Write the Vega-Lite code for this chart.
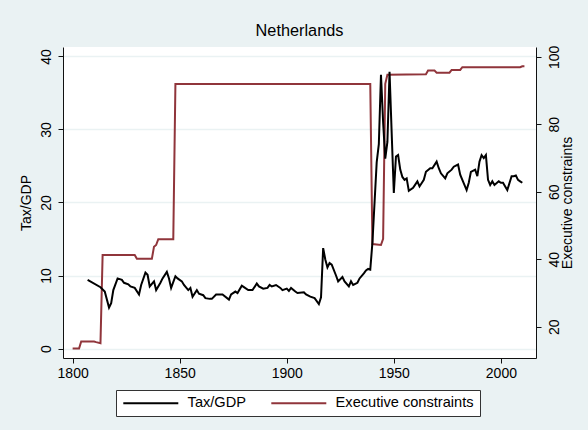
{
  "$schema": "https://vega.github.io/schema/vega-lite/v6.json",
  "width": 473,
  "height": 311,
  "autosize": {"type": "none"},
  "padding": {"left": 63, "top": 47, "right": 52, "bottom": 72},
  "background": "#eaf2f3",
  "title": {"text": "Netherlands", "fontSize": 16.3, "font": "Liberation Sans", "fontWeight": "normal", "color": "#000000", "anchor": "middle", "offset": -7, "baseline": "alphabetic"},
  "config": {
    "view": {"fill": "white", "stroke": null},
    "font": "Liberation Sans",
    "axis": {
      "domainColor": "#111111", "tickColor": "#111111", "labelColor": "#000000", "titleColor": "#000000",
      "labelFontSize": 14, "titleFontSize": 14, "titleFontWeight": "normal", "labelFont": "Liberation Sans", "titleFont": "Liberation Sans",
      "tickSize": 5, "domainWidth": 1, "tickWidth": 1, "labelOverlap": false, "labelFlush": false
    }
  },
  "datasets": {
    "tax": [
      {"year": 1807, "tax": 9.4}, {"year": 1813, "tax": 8.4}, {"year": 1815, "tax": 7.8}, {"year": 1817, "tax": 5.6},
      {"year": 1818, "tax": 6.2}, {"year": 1819, "tax": 8.0}, {"year": 1821, "tax": 9.6}, {"year": 1823, "tax": 9.4},
      {"year": 1824, "tax": 9.0}, {"year": 1826, "tax": 8.8}, {"year": 1827, "tax": 8.5}, {"year": 1829, "tax": 8.3},
      {"year": 1831, "tax": 7.4}, {"year": 1832, "tax": 8.7}, {"year": 1834, "tax": 10.4}, {"year": 1835, "tax": 10.1},
      {"year": 1836, "tax": 8.5}, {"year": 1838, "tax": 9.2}, {"year": 1839, "tax": 8.0}, {"year": 1841, "tax": 9.0},
      {"year": 1842, "tax": 9.6}, {"year": 1844, "tax": 10.5}, {"year": 1845, "tax": 9.6}, {"year": 1846, "tax": 8.3},
      {"year": 1848, "tax": 9.9}, {"year": 1849, "tax": 9.6}, {"year": 1851, "tax": 9.2}, {"year": 1852, "tax": 8.7},
      {"year": 1854, "tax": 8.0}, {"year": 1855, "tax": 8.3}, {"year": 1856, "tax": 7.1}, {"year": 1858, "tax": 8.0},
      {"year": 1859, "tax": 7.5}, {"year": 1861, "tax": 7.3}, {"year": 1862, "tax": 6.9}, {"year": 1864, "tax": 6.8},
      {"year": 1865, "tax": 6.8}, {"year": 1867, "tax": 7.4}, {"year": 1870, "tax": 7.4}, {"year": 1873, "tax": 6.7},
      {"year": 1874, "tax": 7.4}, {"year": 1876, "tax": 7.8}, {"year": 1877, "tax": 7.6}, {"year": 1879, "tax": 8.6},
      {"year": 1880, "tax": 8.4}, {"year": 1882, "tax": 8.0}, {"year": 1884, "tax": 8.0}, {"year": 1886, "tax": 8.9},
      {"year": 1887, "tax": 8.5}, {"year": 1889, "tax": 8.2}, {"year": 1891, "tax": 8.3}, {"year": 1892, "tax": 8.7},
      {"year": 1893, "tax": 8.5}, {"year": 1895, "tax": 8.7}, {"year": 1897, "tax": 8.3}, {"year": 1898, "tax": 8.0},
      {"year": 1900, "tax": 8.2}, {"year": 1901, "tax": 7.9}, {"year": 1902, "tax": 8.3}, {"year": 1904, "tax": 7.8},
      {"year": 1905, "tax": 7.6}, {"year": 1908, "tax": 7.7}, {"year": 1909, "tax": 7.4}, {"year": 1911, "tax": 7.1},
      {"year": 1913, "tax": 6.9}, {"year": 1915, "tax": 6.1}, {"year": 1916, "tax": 7.0}, {"year": 1917, "tax": 13.75},
      {"year": 1918, "tax": 12.2}, {"year": 1919, "tax": 11.1}, {"year": 1920, "tax": 11.7}, {"year": 1921, "tax": 11.5},
      {"year": 1923, "tax": 10.0}, {"year": 1924, "tax": 9.2}, {"year": 1926, "tax": 9.8}, {"year": 1927, "tax": 9.2},
      {"year": 1929, "tax": 8.5}, {"year": 1930, "tax": 9.2}, {"year": 1931, "tax": 8.7}, {"year": 1933, "tax": 9.0},
      {"year": 1934, "tax": 9.6}, {"year": 1936, "tax": 10.3}, {"year": 1937, "tax": 10.7}, {"year": 1938, "tax": 10.9},
      {"year": 1939, "tax": 10.8}, {"year": 1940, "tax": 14.5}, {"year": 1941, "tax": 20.0}, {"year": 1942, "tax": 25.5},
      {"year": 1943, "tax": 28.0}, {"year": 1944, "tax": 37.5}, {"year": 1945, "tax": 31.0}, {"year": 1946, "tax": 26.0},
      {"year": 1947, "tax": 28.3}, {"year": 1948, "tax": 37.9}, {"year": 1949, "tax": 29.5}, {"year": 1950, "tax": 21.3},
      {"year": 1951, "tax": 26.3}, {"year": 1952, "tax": 26.5}, {"year": 1953, "tax": 24.5}, {"year": 1954, "tax": 23.5},
      {"year": 1955, "tax": 23.1}, {"year": 1956, "tax": 23.3}, {"year": 1957, "tax": 21.6}, {"year": 1959, "tax": 22.0},
      {"year": 1961, "tax": 22.9}, {"year": 1962, "tax": 22.2}, {"year": 1964, "tax": 23.1}, {"year": 1965, "tax": 24.2},
      {"year": 1967, "tax": 24.7}, {"year": 1968, "tax": 24.7}, {"year": 1970, "tax": 25.6}, {"year": 1971, "tax": 24.7},
      {"year": 1972, "tax": 24.0}, {"year": 1974, "tax": 23.3}, {"year": 1975, "tax": 24.0}, {"year": 1977, "tax": 24.5},
      {"year": 1978, "tax": 24.9}, {"year": 1980, "tax": 25.2}, {"year": 1981, "tax": 23.8}, {"year": 1982, "tax": 23.1},
      {"year": 1984, "tax": 21.7}, {"year": 1985, "tax": 22.7}, {"year": 1986, "tax": 24.2}, {"year": 1988, "tax": 24.5},
      {"year": 1989, "tax": 23.6}, {"year": 1990, "tax": 25.6}, {"year": 1991, "tax": 26.5}, {"year": 1992, "tax": 26.1},
      {"year": 1993, "tax": 26.5}, {"year": 1994, "tax": 23.1}, {"year": 1995, "tax": 22.4}, {"year": 1996, "tax": 22.9},
      {"year": 1997, "tax": 22.4}, {"year": 1999, "tax": 22.9}, {"year": 2000, "tax": 22.7}, {"year": 2001, "tax": 22.7},
      {"year": 2002, "tax": 22.2}, {"year": 2003, "tax": 21.7}, {"year": 2005, "tax": 23.6}, {"year": 2006, "tax": 23.6},
      {"year": 2007, "tax": 23.7}, {"year": 2008, "tax": 23.1}, {"year": 2009, "tax": 22.9}, {"year": 2010, "tax": 22.7}
    ],
    "exec": [
      {"year": 1800, "xconst": 13.5}, {"year": 1803, "xconst": 13.5}, {"year": 1804, "xconst": 15.6}, {"year": 1810, "xconst": 15.6},
      {"year": 1811, "xconst": 15.4}, {"year": 1813, "xconst": 15.1}, {"year": 1814, "xconst": 41.2}, {"year": 1829, "xconst": 41.2},
      {"year": 1830, "xconst": 40.1}, {"year": 1837, "xconst": 40.1}, {"year": 1838, "xconst": 43.7}, {"year": 1839, "xconst": 44.2},
      {"year": 1840, "xconst": 45.9}, {"year": 1847, "xconst": 45.9}, {"year": 1848, "xconst": 91.9}, {"year": 1939, "xconst": 91.9},
      {"year": 1940, "xconst": 44.5}, {"year": 1944, "xconst": 44.2}, {"year": 1945, "xconst": 46.0}, {"year": 1946, "xconst": 92.0},
      {"year": 1947, "xconst": 94.7}, {"year": 1965, "xconst": 94.8}, {"year": 1966, "xconst": 95.9}, {"year": 1969, "xconst": 95.9},
      {"year": 1970, "xconst": 95.3}, {"year": 1976, "xconst": 95.3}, {"year": 1977, "xconst": 96.1}, {"year": 1981, "xconst": 96.1},
      {"year": 1982, "xconst": 96.9}, {"year": 2009, "xconst": 96.9}, {"year": 2010, "xconst": 97.2}, {"year": 2011, "xconst": 97.2}
    ]
  },
  "layer": [
    {
      "data": {"name": "exec"},
      "mark": {"type": "line", "strokeWidth": 2},
      "encoding": {
        "x": {"field": "year", "type": "quantitative", "scale": {"domain": [1795.5, 2016.4], "nice": false, "zero": false},
              "axis": {"values": [1800, 1850, 1900, 1950, 2000], "format": "d", "title": null, "grid": false, "labelPadding": 3}},
        "y": {"field": "xconst", "type": "quantitative", "scale": {"domain": [10.7, 102.9], "nice": false, "zero": false},
              "axis": {"orient": "right", "title": "Executive constraints", "values": [20, 40, 60, 80, 100], "grid": false,
                       "labelAngle": -90, "labelAlign": "center", "labelBaseline": "top", "labelPadding": 6,
                       "titleAngle": 270, "titleBaseline": "top", "titlePadding": -1}},
        "color": {"datum": "Executive constraints", "type": "nominal"}
      }
    },
    {
      "data": {"name": "tax"},
      "mark": {"type": "line", "strokeWidth": 2},
      "encoding": {
        "x": {"field": "year", "type": "quantitative"},
        "y": {"field": "tax", "type": "quantitative", "scale": {"domain": [-1.3, 41.3], "nice": false, "zero": false},
              "axis": {"orient": "left", "title": "Tax/GDP", "values": [0, 10, 20, 30, 40], "grid": true, "gridColor": "#eaf2f3", "gridWidth": 1.5,
                       "labelAngle": -90, "labelAlign": "center", "labelBaseline": "bottom", "labelPadding": 5,
                       "titleAngle": 270, "titleBaseline": "bottom", "titlePadding": 6}},
        "color": {"datum": "Tax/GDP", "type": "nominal",
                  "scale": {"domain": ["Tax/GDP", "Executive constraints"], "range": ["#000000", "#90353b"]},
                  "legend": {"orient": "none", "legendX": 53, "legendY": 343, "direction": "horizontal", "title": null,
                             "symbolType": "M-1.2,0H9.8", "symbolSize": 100, "symbolStrokeWidth": 2,
                             "labelFontSize": 14.6, "labelFont": "Liberation Sans", "labelColor": "#000000", "labelOffset": 51,
                             "columnPadding": 21, "fillColor": "white", "strokeColor": "#333333", "padding": 6}}
      }
    }
  ],
  "resolve": {"scale": {"y": "independent"}}
}
